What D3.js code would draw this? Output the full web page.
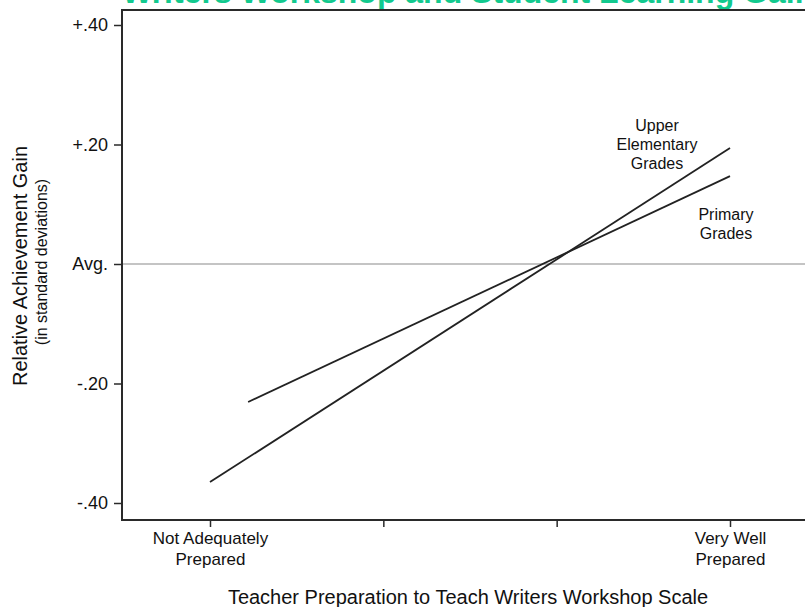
<!DOCTYPE html>
<html>
<head>
<meta charset="utf-8">
<script src="https://cdn.jsdelivr.net/npm/d3@7"></script>
<style>
  body { margin: 0; background: #fff; }
  text { font-family: "Liberation Sans", Arial, sans-serif; fill: #111; }
</style>
</head>
<body>
<div id="chart"></div>
<script>
var width = 805;
var height = 607;

// data
var xTickVals = [1, 2, 3, 4];
var xTickLabels = [["Not Adequately", "Prepared"], [""], [""], ["Very Well", "Prepared"]];
var yTickVals = [0.4, 0.2, 0, -0.2, -0.4];
var yTickLabels = ["+.40", "+.20", "Avg.", "-.20", "-.40"];
var upperX = [1, 4];
var upperY = [-0.365, 0.194];
var primaryX = [1.22, 4];
var primaryY = [-0.231, 0.147];

var svg = d3.select("#chart")
  .append("svg")
  .attr("width", width)
  .attr("height", height)

// scales
var x = d3.scaleLinear().domain([1, 4]).range([210, 730]);
var y = d3.scaleLinear().domain([-0.4, 0.4]).range([503, 25]);

var plotLeft = 122, plotTop = 10, plotBottom = 520;

// title (cut off at the top in the original)
svg.append("text")
  .attr("x", 122)
  .attr("y", 3)
  .style("font-size", "32px")
  .style("font-weight", "bold")
  .style("fill", "#12c98e")
  .text("Writers Workshop and Student Learning Gains")

// average line
svg.append("line")
  .attr("x1", plotLeft).attr("x2", width)
  .attr("y1", y(0)).attr("y2", y(0))
  .attr("stroke", "#8a8a8a")
  .attr("stroke-width", 1.2)

// frame: top, left, bottom
svg.append("path")
  .attr("d", "M" + width + "," + plotTop + "H" + plotLeft + "V" + plotBottom + "H" + width)
  .attr("fill", "none")
  .attr("stroke", "#2a2a2a")
  .attr("stroke-width", 2)

// y axis
var yAxis = d3.axisLeft(y)
  .tickValues(yTickVals)
  .tickSize(8)
  .tickPadding(6)
  .tickFormat((d, i) => yTickLabels[i]);
var gy = svg.append("g")
  .attr("transform", "translate(" + plotLeft + ",0)")
  .call(yAxis)
gy.select(".domain").remove()
gy.selectAll("line").attr("stroke", "#2a2a2a").attr("stroke-width", 1.5).attr("x2", -8).attr("x1", 1)
gy.selectAll("text").style("font-size", "18px").style("font-family", "'Liberation Sans', Arial, sans-serif").attr("fill", "#111")

// x axis
var xAxis = d3.axisBottom(x)
  .tickValues(xTickVals)
  .tickSize(7)
  .tickFormat("");
var gx = svg.append("g")
  .attr("transform", "translate(0," + plotBottom + ")")
  .call(xAxis)
gx.select(".domain").remove()
gx.selectAll("line").attr("stroke", "#2a2a2a").attr("stroke-width", 1.5)

gx.selectAll(".tick")
  .append("text")
  .attr("text-anchor", "middle")
  .style("font-size", "17px")
  .selectAll("tspan")
  .data((d, i) => xTickLabels[i])
  .join("tspan")
    .attr("x", 0)
    .attr("y", (d, i) => 24 + i * 21)
    .text(d => d)

// lines
var line = d3.line().x(d => x(d[0])).y(d => y(d[1]));
svg.append("path")
  .datum(d3.zip(upperX, upperY))
  .attr("d", line)
  .attr("fill", "none")
  .attr("stroke", "#222")
  .attr("stroke-width", 1.8)
svg.append("path")
  .datum(d3.zip(primaryX, primaryY))
  .attr("d", line)
  .attr("fill", "none")
  .attr("stroke", "#222")
  .attr("stroke-width", 1.8)

// line labels
function multiText(lines, cx, cy0, dy) {
  var t = svg.append("text")
    .attr("text-anchor", "middle")
    .style("font-size", "16px")
  t.selectAll("tspan")
    .data(lines)
    .join("tspan")
      .attr("x", cx)
      .attr("y", (d, i) => cy0 + i * dy)
      .text(d => d)
}
multiText(["Upper", "Elementary", "Grades"], 657, 131, 19)
multiText(["Primary", "Grades"], 726, 220, 19)

// axis titles
svg.append("text")
  .attr("transform", "translate(27,266) rotate(-90)")
  .attr("text-anchor", "middle")
  .style("font-size", "20px")
  .text("Relative Achievement Gain")
svg.append("text")
  .attr("transform", "translate(47,262) rotate(-90)")
  .attr("text-anchor", "middle")
  .style("font-size", "16px")
  .text("(in standard deviations)")

svg.append("text")
  .attr("x", 468)
  .attr("y", 604)
  .attr("text-anchor", "middle")
  .style("font-size", "20px")
  .text("Teacher Preparation to Teach Writers Workshop Scale")
</script>
</body>
</html>
